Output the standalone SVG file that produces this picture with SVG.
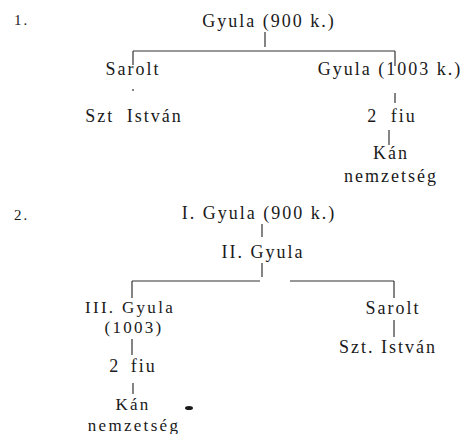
<svg xmlns="http://www.w3.org/2000/svg" width="461" height="434" viewBox="0 0 461 434">
<style>
text{font-family:"Liberation Serif","Times New Roman",serif;font-size:18px;fill:#1a1a1a;letter-spacing:2px;text-anchor:middle}
.l{text-anchor:start}
.s{font-size:17px;letter-spacing:2.3px}
.c line{stroke:#333;stroke-width:1.2}
</style>
<rect width="461" height="434" fill="#fff"/>
<g id="labels">
<text class="l" x="14" y="25" style="font-size:15px">1.</text>
<text class="l" x="14" y="220" style="font-size:15px">2.</text>
</g>
<g id="t1-root"><text x="269" y="27">Gyula (900 k.)</text></g>
<g id="t1-sarolt"><text x="133" y="75">Sarolt</text></g>
<g id="t1-gyula2"><text x="390" y="75">Gyula (1003 k.)</text></g>
<g id="t1-istvan"><text x="134" y="122" word-spacing="6">Szt István</text></g>
<g id="t1-fiu"><text x="392" y="122" word-spacing="6">2 fiu</text></g>
<g id="t1-kan"><text x="391" y="159">Kán</text><text x="391" y="182">nemzetség</text></g>
<g id="t2-gyula1"><text x="259" y="219">I. Gyula (900 k.)</text></g>
<g id="t2-gyula2"><text x="263" y="258">II. Gyula</text></g>
<g id="t2-gyula3"><text class="s" x="130" y="313">III. Gyula</text><text class="s" x="134" y="333">(1003)</text></g>
<g id="t2-sarolt"><text x="393" y="314">Sarolt</text></g>
<g id="t2-istvan"><text x="388" y="353">Szt. István</text></g>
<g id="t2-fiu"><text x="133" y="372" word-spacing="4">2 fiu</text></g>
<g id="t2-kan"><text class="s" x="133" y="410">Kán</text><text class="s" x="134" y="431">nemzetség</text></g>
<g id="connectors" class="c">
<line x1="265" y1="32" x2="265" y2="47"/>
<line x1="133" y1="51" x2="395" y2="51"/>
<line x1="133" y1="51" x2="133" y2="65"/>
<line x1="395" y1="51" x2="395" y2="66"/>
<line x1="133" y1="89" x2="133" y2="91"/>
<line x1="395" y1="93" x2="395" y2="103"/>
<line x1="389" y1="130" x2="389" y2="145"/>
<line x1="262" y1="224" x2="262" y2="237"/>
<line x1="262" y1="263" x2="262" y2="277"/>
<line x1="132" y1="281" x2="260" y2="281"/>
<line x1="290" y1="281" x2="394" y2="281"/>
<line x1="132" y1="281" x2="132" y2="298"/>
<line x1="394" y1="281" x2="394" y2="298"/>
<line x1="394" y1="320" x2="394" y2="337"/>
<line x1="132" y1="339" x2="132" y2="355"/>
<line x1="133" y1="383" x2="133" y2="394"/>
</g>
<ellipse cx="189" cy="408" rx="4" ry="2" fill="#1a1a1a"/>
</svg>
